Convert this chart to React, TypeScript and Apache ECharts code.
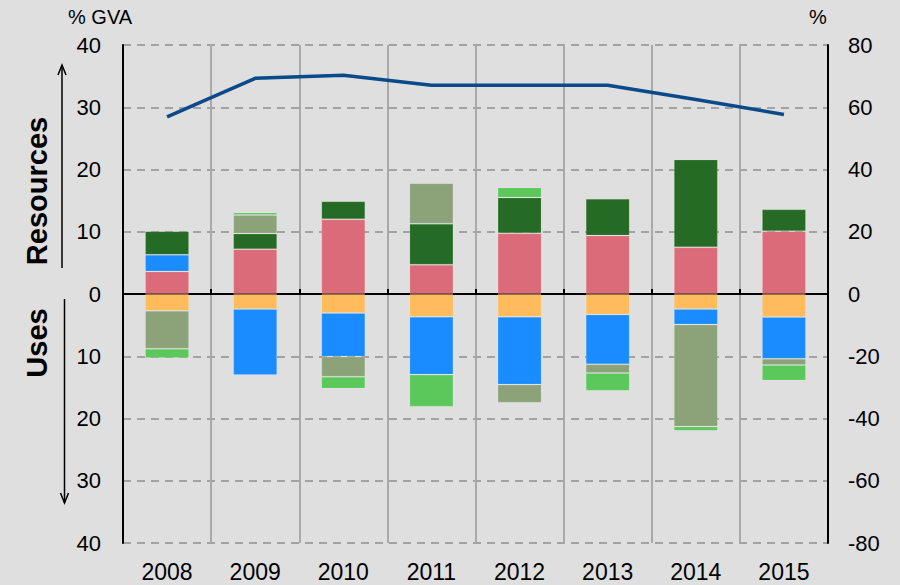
import React, { useEffect, useRef } from "react";
import * as echarts from "echarts";

const years = ["2008", "2009", "2010", "2011", "2012", "2013", "2014", "2015"];
const pinkVals = [3.6, 7.2, 12.0, 4.7, 9.75, 9.4, 7.5, 10.1];
const orangeVals = [-2.7, -2.4, -3.05, -3.65, -3.65, -3.3, -2.4, -3.7];
const blueVals = [2.7, -10.6, -7.0, -9.3, -10.9, -8.0, -2.5, -6.7];
const darkGreenVals = [3.8, 2.5, 2.9, 6.6, 5.75, 5.9, 14.1, 3.5];
const oliveVals = [-6.1, 3.0, -3.25, 6.5, -2.9, -1.4, -16.4, -1.0];
const lightGreenVals = [-1.5, 0.4, -1.9, -5.15, 1.6, -2.85, -0.65, -2.5];
const lineVals = [56.9, 69.3, 70.3, 67.1, 67.1, 67.1, 62.5, 57.7];

const FONT = "Liberation Sans, Arial, sans-serif";

export default function App() {
  const ref = useRef<HTMLDivElement>(null);
  useEffect(() => {
    if (!ref.current) return;
    const chart = echarts.init(ref.current, null, { renderer: "svg" });
    const barBase = (name: string, color: string, data: number[]) => ({
      name,
      type: "bar",
      stack: "all",
      xAxisIndex: 0,
      yAxisIndex: 0,
      barWidth: 44,
      data,
      itemStyle: { color, borderColor: "rgba(255,255,255,0.12)", borderWidth: 1 },
    });
    chart.setOption({
      animation: false,
      backgroundColor: "#dfdfdf",
      textStyle: { fontFamily: FONT },
      grid: { left: 123, right: 72, top: 45, bottom: 42 },
      xAxis: [
        {
          type: "category",
          data: years,
          position: "bottom",
          axisLine: { show: false, onZero: false },
          axisTick: { show: false },
          axisLabel: { color: "#000", fontSize: 23, margin: 17, fontFamily: FONT },
          splitLine: { show: true, lineStyle: { color: "#a9a9a9", width: 2 } },
        },
        {
          type: "category",
          data: years,
          position: "bottom",
          axisLine: { show: true, onZero: true, lineStyle: { color: "#000", width: 2 } },
          axisTick: { show: true, inside: true, length: 5, lineStyle: { color: "#000", width: 2 } },
          axisLabel: { show: false },
          splitLine: { show: false },
        },
      ],
      yAxis: [
        {
          type: "value",
          min: -40,
          max: 40,
          interval: 10,
          axisLine: { show: true, lineStyle: { color: "#000", width: 2 } },
          axisTick: { show: false },
          axisLabel: {
            color: "#000",
            fontSize: 22,
            margin: 22,
            fontFamily: FONT,
            formatter: (v: number) => String(Math.abs(v)),
          },
          splitLine: { show: true, lineStyle: { color: "#a3a3a3", width: 2, type: [8, 6] } },
        },
        {
          type: "value",
          min: -80,
          max: 80,
          interval: 20,
          position: "right",
          axisLine: { show: true, lineStyle: { color: "#000", width: 2 } },
          axisTick: { show: false },
          axisLabel: { color: "#000", fontSize: 22, margin: 20, fontFamily: FONT },
          splitLine: { show: false },
        },
      ],
      series: [
        barBase("Pink", "#db6b78", pinkVals),
        barBase("Orange", "#ffbb5c", orangeVals),
        barBase("Blue", "#1a8cff", blueVals),
        barBase("Dark green", "#256b25", darkGreenVals),
        barBase("Olive", "#8ca37a", oliveVals),
        barBase("Light green", "#5bc85b", lightGreenVals),
        {
          name: "Line",
          type: "line",
          xAxisIndex: 0,
          yAxisIndex: 1,
          data: lineVals,
          symbol: "none",
          lineStyle: { color: "#0b4a8a", width: 3.5 },
          z: 5,
        },
      ],
      graphic: [
        { type: "text", left: 68, top: 7, style: { text: "% GVA", fontSize: 20, fill: "#000", fontFamily: FONT } },
        { type: "text", left: 809, top: 7, style: { text: "%", fontSize: 20, fill: "#000", fontFamily: FONT } },
        {
          type: "text",
          x: 37,
          y: 191,
          rotation: Math.PI / 2,
          style: {
            text: "Resources",
            fontSize: 29,
            fontWeight: "bold",
            fill: "#000",
            fontFamily: FONT,
            align: "center",
            verticalAlign: "middle",
          },
        },
        {
          type: "text",
          x: 37,
          y: 343,
          rotation: Math.PI / 2,
          style: {
            text: "Uses",
            fontSize: 29,
            fontWeight: "bold",
            fill: "#000",
            fontFamily: FONT,
            align: "center",
            verticalAlign: "middle",
          },
        },
        { type: "line", shape: { x1: 62, y1: 268, x2: 62, y2: 65 }, style: { stroke: "#000", lineWidth: 1.5 } },
        { type: "polyline", shape: { points: [[58, 75], [62, 65], [66, 75]] }, style: { stroke: "#000", lineWidth: 1.5, fill: null } },
        { type: "line", shape: { x1: 64.5, y1: 299, x2: 64.5, y2: 503 }, style: { stroke: "#000", lineWidth: 1.5 } },
        { type: "polyline", shape: { points: [[60.5, 493], [64.5, 503], [68.5, 493]] }, style: { stroke: "#000", lineWidth: 1.5, fill: null } },
      ],
    });
    return () => chart.dispose();
  }, []);
  return (
    <div
      ref={ref}
      style={{ position: "absolute", left: 0, top: 0, width: 900, height: 585 }}
    />
  );
}
